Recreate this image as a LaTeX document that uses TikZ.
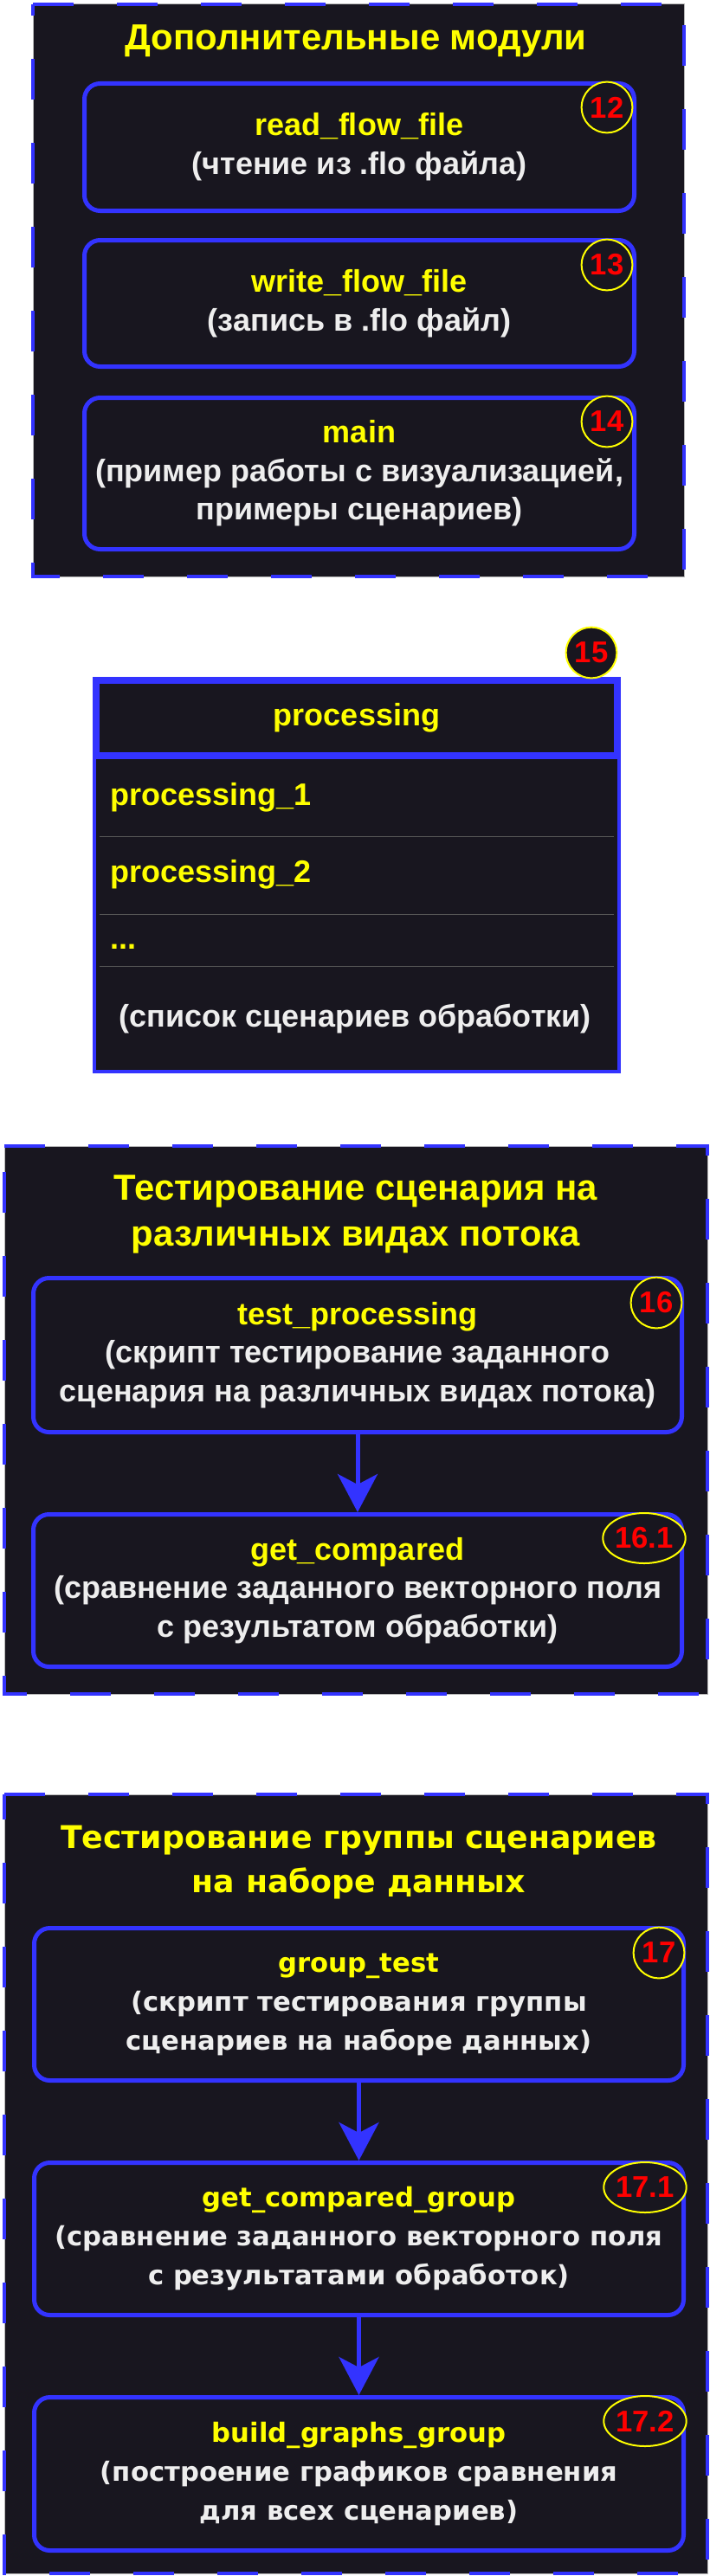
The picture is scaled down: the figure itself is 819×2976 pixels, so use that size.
\documentclass[tikz,border=0pt]{standalone}
\usepackage{fontspec}
\setmainfont{Liberation Sans}
\newfontfamily\verd{DejaVu Sans}
\usetikzlibrary{arrows.meta,shapes.geometric}
\definecolor{edgeblue}{HTML}{3333FF}
\definecolor{panel}{HTML}{18161F}
\definecolor{label}{HTML}{FFFF00}
\definecolor{note}{HTML}{EEEEEE}
\definecolor{rowline}{HTML}{555555}

\begin{document}
\begin{tikzpicture}[
  x=0.75pt, y=-0.75pt,
  group/.style={draw=edgeblue, line width=3pt, dash pattern=on 35.25pt off 37.5pt,
    preaction={fill=panel, draw=gray!55, line width=0.75pt, solid}},
  grouptitle/.style={text=label, align=center, inner sep=0pt, font=\bfseries\fontsize{31.4}{39.75}\selectfont},
  module/.style={rectangle, rounded corners=13.5pt, draw=edgeblue, fill=panel, line width=3.75pt,
    align=center, inner sep=1pt, text=note, font=\bfseries\fontsize{27}{33.5}\selectfont},
  badge/.style={circle, draw=label, fill=panel, line width=1.5pt, minimum size=44pt, inner sep=0pt,
    text=red, font=\bfseries\fontsize{26}{30}\selectfont},
  badgewide/.style={badge, ellipse, minimum width=67.5pt, minimum height=43.5pt},
  rowitem/.style={inner sep=0pt, text=label, font=\bfseries\fontsize{27}{30}\selectfont},
  flow/.style={draw=edgeblue, line width=3.75pt, -{Stealth[length=33pt, width=34.5pt, inset=9pt]}},
  verdtitle/.style={grouptitle, font=\verd\bfseries\fontsize{27.2}{38.25}\selectfont},
  verdmodule/.style={module, font=\verd\bfseries\fontsize{23}{33.75}\selectfont}
]
\fill[white] (0,0) rectangle (819,2976);
\useasboundingbox (0,0) rectangle (819,2976);

\draw[group] (38,5) -- (790,5) -- (790,666) -- (38,666) -- cycle;
\node[grouptitle] (addtitle) at (411,47) {Дополнительные модули};
\node[module, minimum width=476.25pt, minimum height=110.25pt] (readflo) at (415,170)
  {\textcolor{label}{read\_flow\_file}\\(чтение из .flo файла)};
\node[module, minimum width=476.25pt, minimum height=109.5pt] (writeflo) at (415,350.5)
  {\textcolor{label}{write\_flow\_file}\\(запись в .flo файл)};
\node[module, minimum width=476.25pt, minimum height=131.25pt] (mainmod) at (415,547)
  {\textcolor{label}{main}\\(пример работы с визуализацией,\\примеры сценариев)};
\node[badge] (b12) at (701,124) {12};
\node[badge] (b13) at (701,306) {13};
\node[badge] (b14) at (701,487) {14};

\node[draw=edgeblue, fill=panel, line width=3pt, minimum width=454.5pt, minimum height=340.5pt, inner sep=0pt] (proclist) at (412,1011) {};
\node[draw=edgeblue, fill=panel, line width=6pt, minimum width=451.5pt, minimum height=65.25pt,
  inner sep=0pt, text=label, font=\bfseries\fontsize{27}{30}\selectfont] (prochead) at (412,829.5) {processing};
\draw[rowline, line width=0.75pt] (115,966) -- (709,966);
\draw[rowline, line width=0.75pt] (115,1056) -- (709,1056);
\draw[rowline, line width=0.75pt] (115,1116) -- (709,1116);
\node[rowitem, anchor=base west] (proc1) at (127,930) {processing\_1};
\node[rowitem, anchor=base west] (proc2) at (127,1019.5) {processing\_2};
\node[rowitem, anchor=base west] (procdots) at (127,1096.5) {...};
\node[rowitem, anchor=base, text=note] (procnote) at (410,1186) {(список сценариев обработки)};
\node[badge] (b15) at (683,754) {15};

\draw[group] (5,1324) -- (817,1324) -- (817,1957) -- (5,1957) -- cycle;
\node[grouptitle] (scentitle) at (411,1402.5) {Тестирование сценария на\\различных видах потока};
\node[module, minimum width=561.75pt, minimum height=133.5pt] (testproc) at (413,1565.5)
  {\textcolor{label}{test\_processing}\\(скрипт тестирование заданного\\сценария на различных видах потока)};
\node[module, minimum width=561.75pt, minimum height=132pt] (getcomp) at (413,1837.5)
  {\textcolor{label}{get\_compared}\\(сравнение заданного векторного поля\\с результатом обработки)};
\node[badge] (b16) at (758,1505) {16};
\node[badgewide] (b161) at (744,1777) {16.1};
\draw[flow] (testproc) -- (getcomp);

\draw[group] (5,2073) -- (817,2073) -- (817,2973) -- (5,2973) -- cycle;
\node[verdtitle] (grouptitle4) at (414.5,2152) {Тестирование группы сценариев\\на наборе данных};
\node[verdmodule, minimum width=562.5pt, minimum height=132pt] (grouptest) at (414.5,2315.5)
  {\textcolor{label}{group\_test}\\(скрипт тестирования группы\\сценариев на наборе данных)};
\node[verdmodule, minimum width=562.5pt, minimum height=132pt] (getcompgroup) at (414.5,2586.5)
  {\textcolor{label}{get\_compared\_group}\\(сравнение заданного векторного поля\\с результатами обработок)};
\node[verdmodule, minimum width=562.5pt, minimum height=132.75pt] (buildgraphs) at (414.5,2858)
  {\textcolor{label}{build\_graphs\_group}\\(построение графиков сравнения\\для всех сценариев)};
\node[badge] (b17) at (761,2256) {17};
\node[badgewide] (b171) at (745,2527) {17.1};
\node[badgewide] (b172) at (745,2797) {17.2};
\draw[flow] (grouptest) -- (getcompgroup);
\draw[flow] (getcompgroup) -- (buildgraphs);
\end{tikzpicture}
\end{document}
